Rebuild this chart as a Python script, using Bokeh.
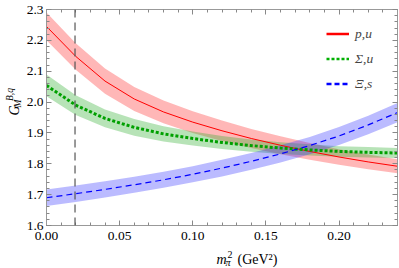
from bokeh.plotting import figure
from bokeh.layouts import row, column
from bokeh.models import (Range1d, LinearAxis, FixedTicker, PrintfTickFormatter,
                          Span, Label, Legend, LegendItem, CustomLabelingPolicy)
from bokeh.embed import file_html
from bokeh.resources import INLINE
import math

# ---- data ----
mpi2 = [0.00, 0.02, 0.04, 0.06, 0.08, 0.10, 0.12, 0.14, 0.16, 0.18, 0.20, 0.22, 0.24]

p_u      = [2.245, 2.148, 2.068, 2.010, 1.968, 1.935, 1.907, 1.882, 1.860, 1.840, 1.822, 1.806, 1.792]
p_u_err  = [0.045, 0.043, 0.041, 0.039, 0.037, 0.035, 0.033, 0.031, 0.029, 0.027, 0.025, 0.024, 0.023]

sig_u     = [2.054, 1.990, 1.947, 1.918, 1.897, 1.882, 1.869, 1.859, 1.851, 1.845, 1.840, 1.837, 1.835]
sig_u_err = [0.035, 0.032, 0.029, 0.027, 0.025, 0.023, 0.021, 0.020, 0.019, 0.018, 0.017, 0.017, 0.016]

xi_s     = [1.690, 1.703, 1.717, 1.732, 1.748, 1.766, 1.786, 1.808, 1.832, 1.859, 1.890, 1.926, 1.966]
xi_s_err = [0.027, 0.027, 0.026, 0.026, 0.026, 0.026, 0.027, 0.027, 0.028, 0.028, 0.029, 0.030, 0.031]

phys_mpi2 = 0.0195

x_ticks = [0.00, 0.05, 0.10, 0.15, 0.20]
x_minor = [i * 0.01 for i in range(0, 25)]
y_ticks = [1.6, 1.7, 1.8, 1.9, 2.0, 2.1, 2.2, 2.3]
y_minor = [1.6 + i * 0.02 for i in range(0, 36)]

labels = ["p,u", "\u03a3,u", "\u039e,s"]

FONT = "Liberation Serif"
TICK_FS = "13.5px"

p = figure(width=377, height=246, frame_width=351, frame_height=216,
           output_backend="svg", toolbar_location=None,
           x_range=Range1d(0, 0.24), y_range=Range1d(1.6, 2.3),
           x_axis_location=None, y_axis_location=None,
           min_border_left=24, min_border_right=2, min_border_top=9, min_border_bottom=21)
p.grid.visible = False
p.outline_line_color = "#999999"
p.background_fill_color = "white"
p.border_fill_color = "white"

def style_axis(ax, ticks, minor, fmt, show_labels, standoff):
    ax.ticker = FixedTicker(ticks=ticks, minor_ticks=minor)
    ax.formatter = PrintfTickFormatter(format=fmt)
    ax.axis_line_color = "#999999"
    ax.major_tick_line_color = "#888888"
    ax.minor_tick_line_color = "#888888"
    ax.major_tick_in = 5
    ax.major_tick_out = 0
    ax.minor_tick_in = 3
    ax.minor_tick_out = 0
    ax.major_label_text_font = FONT
    ax.major_label_text_color = "black"
    ax.major_label_standoff = standoff
    if show_labels:
        ax.major_label_text_font_size = TICK_FS
    else:
        ax.major_label_text_font_size = "1px"
        ax.major_label_policy = CustomLabelingPolicy(code="return new Set()")

bx = LinearAxis(); style_axis(bx, x_ticks, x_minor, "%.2f", True, 6); p.add_layout(bx, "below")
lx = LinearAxis(); style_axis(lx, y_ticks, y_minor, "%.1f", True, 3); p.add_layout(lx, "left")
tx = LinearAxis(); style_axis(tx, x_ticks, x_minor, "%.2f", False, 0); p.add_layout(tx, "above")
rx = LinearAxis(); style_axis(rx, y_ticks, y_minor, "%.1f", False, 0); p.add_layout(rx, "right")

def lo(c, e): return [a - b for a, b in zip(c, e)]
def hi(c, e): return [a + b for a, b in zip(c, e)]

p.varea(x=mpi2, y1=lo(p_u, p_u_err), y2=hi(p_u, p_u_err), fill_color="#ff3030", fill_alpha=0.35)
p.varea(x=mpi2, y1=lo(sig_u, sig_u_err), y2=hi(sig_u, sig_u_err), fill_color="#30b030", fill_alpha=0.35)
p.varea(x=mpi2, y1=lo(xi_s, xi_s_err), y2=hi(xi_s, xi_s_err), fill_color="#3030ff", fill_alpha=0.33)

p.line(mpi2, p_u, line_color="#ff0000", line_width=1)
p.line(mpi2, sig_u, line_color="#00a000", line_width=3, line_dash="3 2")
p.line(mpi2, xi_s, line_color="#0000ff", line_width=1.2, line_dash="6 4")

p.add_layout(Span(location=phys_mpi2, dimension="height", line_color="#555555",
                  line_width=1.2, line_dash="8 5"))

# legend proxies (one NaN point each: draw nothing in the plot)
nan = float("nan")
l1 = p.line([nan], [nan], line_color="#ff0000", line_width=2.5)
l2 = p.line([nan], [nan], line_color="#00b000", line_width=2.5, line_dash="3 2")
l3 = p.line([nan], [nan], line_color="#0000ff", line_width=2.5, line_dash="5 3")
legend = Legend(items=[LegendItem(label=labels[0], renderers=[l1]),
                       LegendItem(label=labels[1], renderers=[l2]),
                       LegendItem(label=labels[2], renderers=[l3])],
                location=(280, 129), orientation="vertical",
                border_line_alpha=0, background_fill_alpha=0,
                padding=0, margin=0, spacing=0,
                glyph_width=23, glyph_height=25, label_height=25,
                label_standoff=6,
                label_text_font=FONT, label_text_font_style="italic",
                label_text_font_size="13.5px")
p.add_layout(legend, "center")

def text_fig(w, h):
    f = figure(width=w, height=h, output_backend="svg", toolbar_location=None,
               x_axis_location=None, y_axis_location=None,
               min_border_left=0, min_border_right=0, min_border_top=0, min_border_bottom=0)
    f.grid.visible = False
    f.outline_line_color = None
    f.border_fill_color = "white"
    f.background_fill_color = "white"
    return f

def lab(f, text, x, y, size, style="normal", angle=0.0, align="left", baseline="alphabetic"):
    f.add_layout(Label(x=x, y=y, x_units="screen", y_units="screen", text=text,
                       text_font=FONT, text_font_size=size, text_font_style=style,
                       text_align=align, text_baseline=baseline, angle=angle,
                       text_color="black"))

# x title: m_pi^2 (GeV^2)
xt = text_fig(377, 22)
lab(xt, "m", 170, 9, "14px", "italic")
lab(xt, "\u03c0", 179, 6, "10px", "italic")
lab(xt, "2", 181, 14, "10px")
lab(xt, "(GeV\u00b2)", 191, 9, "14px")

# y title: G_M^{B,q} rotated
yt = text_fig(22, 268)
A = math.pi / 2
lab(yt, "G", 14, 158, "14px", "italic", angle=A, align="center", baseline="middle")
lab(yt, "M", 17.5, 165, "9.5px", "italic", angle=A, align="center", baseline="middle")
lab(yt, "B,q", 9.5, 174, "9.5px", "italic", angle=A, align="center", baseline="middle")

layout = row(yt, column(p, xt))
open("out.html", "w").write(file_html(layout, INLINE))
